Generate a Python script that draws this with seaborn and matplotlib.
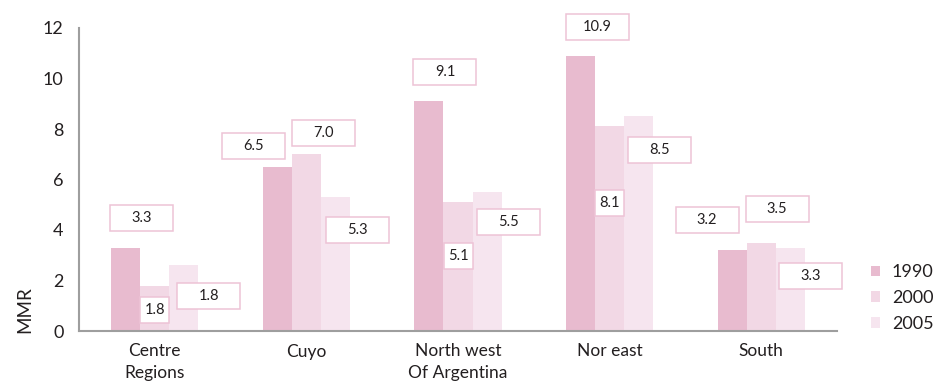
import numpy as np
import pandas as pd
import seaborn as sns
import matplotlib.pyplot as plt
import matplotlib.transforms as mtransforms
from matplotlib.patches import Patch, Rectangle

sns.set_style("white")
plt.rcParams['font.family'] = ['Lato', 'DejaVu Sans']

regions = ["Centre\nRegions", "Cuyo", "North west\nOf Argentina", "Nor east", "South"]
years = ["1990", "2000", "2005"]

# bar heights
mmr_1990 = [3.3, 6.5, 9.1, 10.9, 3.2]
mmr_2000 = [1.8, 7.0, 5.1, 8.1, 3.5]
mmr_2005 = [2.6, 5.3, 5.5, 8.5, 3.3]

# printed labels (the Centre 2005 label does not match its bar in the original)
lbl_1990 = ["3.3", "6.5", "9.1", "10.9", "3.2"]
lbl_2000 = ["1.8", "7.0", "5.1", "8.1", "3.5"]
lbl_2005 = ["1.8", "5.3", "5.5", "8.5", "3.3"]

colors = ["#E8BBCF", "#F2D8E5", "#F6E5EF"]
text_c = "#231F20"
axis_c = "#9E9E9E"
box_c = "#EEC3D6"

df = pd.DataFrame({
    "region": regions * 3,
    "year": [y for y in years for _ in regions],
    "mmr": mmr_1990 + mmr_2000 + mmr_2005,
})

fig = plt.figure(figsize=(9.36, 3.9), dpi=100)
ax = fig.add_axes([79 / 936, 1 - 331 / 390, 758 / 936, 303 / 390])

sns.barplot(data=df, x="region", y="mmr", hue="year", palette=colors,
            width=0.575, saturation=1, linewidth=0, legend=False, ax=ax)

ax.set_xlim(-0.5, 4.5)
ax.set_ylim(0, 12)

# axes styling
for s in ["top", "right"]:
    ax.spines[s].set_visible(False)
for s in ["left", "bottom"]:
    ax.spines[s].set_color(axis_c)
    ax.spines[s].set_linewidth(1.5)

ax.xaxis.remove_overlapping_locs = False
ax.yaxis.remove_overlapping_locs = False

ax.set_xticks(np.arange(-0.5, 5, 1), labels=[""] * 6)
ax.set_xticks(range(5), labels=regions, minor=True)
ax.tick_params(axis="x", which="major", length=3.5, width=1.5, color=axis_c, direction="out")
ax.tick_params(axis="x", which="minor", length=0, pad=9, labelsize=12.5, labelcolor=text_c)
for t in ax.get_xticklabels(minor=True):
    t.set_linespacing(1.45)

ax.set_yticks(np.linspace(0, 12, 10), labels=[""] * 10)
ax.set_yticks(np.arange(0, 13, 2), labels=[str(v) for v in range(0, 13, 2)], minor=True)
ax.tick_params(axis="y", which="major", length=3, width=1.5, color=axis_c, direction="out")
ax.tick_params(axis="y", which="minor", length=0, pad=11, labelsize=13, labelcolor=text_c)

ax.set_xlabel("")
ax.set_ylabel("MMR", fontsize=13.5, color=text_c)
ax.yaxis.set_label_coords(-0.061, 0.069)

# value boxes, offsets in pixels from the top of each bar
labels = [lbl_1990, lbl_2000, lbl_2005]
box_dx = [[16, -24, 16, 17, -25],
          [0, 17, 0, 0, 16],
          [25, 22, 21, 21, 20]]
box_dy = [[30, 21, 29, 29, 30],
          [-24, 21, -54, -77, 34],
          [-31, -33, -30, -34, -28]]
box_w = [[63] * 5,
         [29, 63, 29, 29, 63],
         [63] * 5]
box_h = 26

for j, cont in enumerate(ax.containers):
    for i, bar in enumerate(cont):
        xc = bar.get_x() + bar.get_width() / 2
        yt = bar.get_height()
        dx, dy, w = box_dx[j][i], box_dy[j][i], box_w[j][i]
        tr = mtransforms.Affine2D().translate(dx, dy) + \
            mtransforms.ScaledTranslation(xc, yt, ax.transData)
        ax.add_patch(Rectangle((-w / 2, -box_h / 2), w, box_h, transform=tr,
                               facecolor="white", edgecolor=box_c, lw=1.1,
                               clip_on=False, zorder=4))
        ax.text(0, 0, labels[j][i], transform=tr, ha="center", va="center",
                fontsize=10.5, color=text_c, zorder=5, clip_on=False)

handles = [Patch(facecolor=c, edgecolor="none", label=y) for c, y in zip(colors, years)]
leg = fig.legend(handles=handles, loc="center left", bbox_to_anchor=(871 / 936, 1 - 298 / 390),
                 frameon=False, fontsize=13, handlelength=0.5, handleheight=0.5,
                 handletextpad=0.65, labelspacing=0.55, borderpad=0, borderaxespad=0)
for t in leg.get_texts():
    t.set_color(text_c)

fig.savefig("out.png", dpi=100)
